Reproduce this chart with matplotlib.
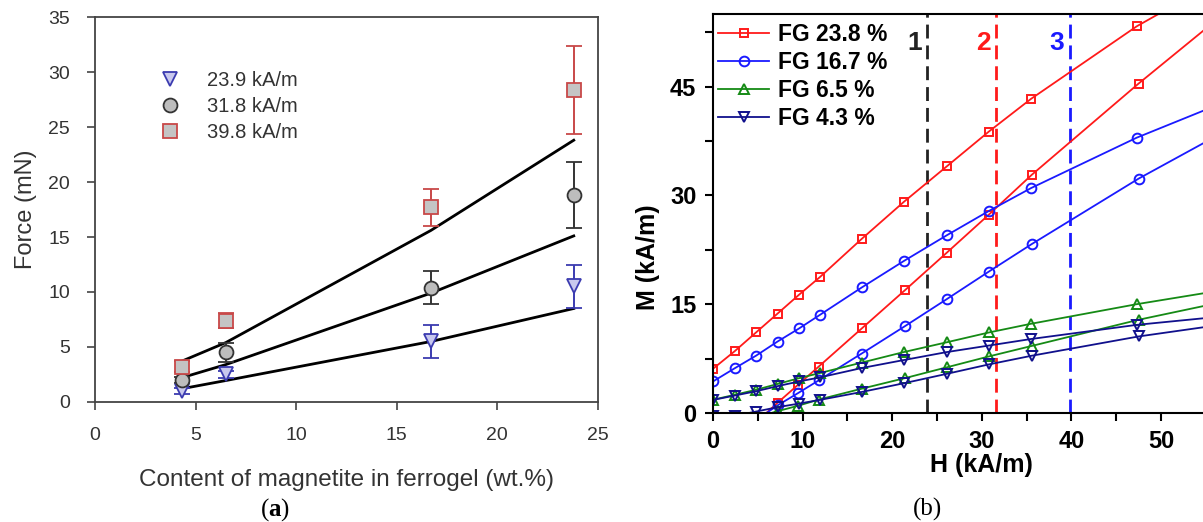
import numpy as np
import matplotlib
matplotlib.use('Agg')
import matplotlib.pyplot as plt
from matplotlib.lines import Line2D

plt.rcParams['font.family'] = ['Liberation Sans', 'DejaVu Sans']
plt.rcParams['mathtext.fontset'] = 'custom'
plt.rcParams['mathtext.rm'] = 'Liberation Serif'
plt.rcParams['mathtext.bf'] = 'Liberation Serif:bold'

# ---- panel (a): force vs magnetite content
content = [4.3, 6.5, 16.7, 23.8]
force_239 = [1.0, 2.5, 5.5, 10.5]
err_239 = [0.25, 0.3, 1.5, 2.0]
force_318 = [2.0, 4.5, 10.4, 18.8]
err_318 = [0.3, 0.9, 1.5, 3.0]
force_398 = [3.2, 7.4, 17.7, 28.4]
err_398 = [0.5, 0.7, 1.7, 4.0]
fit_239 = [1.2, 1.95, 5.5, 8.5]
fit_318 = [2.2, 3.4, 9.9, 15.1]
fit_398 = [3.7, 5.4, 15.6, 23.8]

# ---- panel (b): magnetization curves
h_up = [0, 2.4, 4.8, 7.2, 9.6, 11.9, 16.6, 21.3, 26.1, 30.8, 35.5, 47.3, 59.2]
m238_up = [6.1, 8.5, 11.1, 13.7, 16.3, 18.7, 24.0, 29.1, 34.0, 38.8, 43.3, 53.3, 61.6]
m167_up = [4.35, 6.15, 7.9, 9.85, 11.65, 13.5, 17.3, 20.95, 24.5, 27.85, 31.0, 37.95, 43.9]
m65_up = [1.83, 2.5, 3.2, 4.0, 4.8, 5.5, 6.95, 8.4, 9.75, 11.1, 12.3, 15.0, 17.4]
m43_up = [1.8, 2.4, 3.0, 3.7, 4.35, 4.9, 6.2, 7.3, 8.4, 9.3, 10.2, 12.15, 13.6]

h_lo = [4.8, 7.2, 9.5, 11.8, 16.6, 21.4, 26.1, 30.8, 35.6, 47.5, 59.2]
m238_lo = [-1.3, 1.4, 3.9, 6.4, 11.65, 16.9, 22.1, 27.35, 32.85, 45.4, 57.2]
m167_lo = [-1.0, 1.05, 2.75, 4.5, 8.2, 11.95, 15.7, 19.5, 23.3, 32.3, 40.2]
m65_lo = [-0.6, 0.25, 1.0, 1.85, 3.35, 4.8, 6.3, 7.8, 9.25, 12.85, 15.9]
h43_lo = [0, 2.4, 4.8, 7.2, 9.6, 11.9, 16.6, 21.3, 26.1, 30.8, 35.6, 47.5, 59.2]
m43_lo = [-0.4, -0.4, 0.2, 0.8, 1.3, 1.8, 2.9, 4.1, 5.4, 6.7, 7.9, 10.55, 12.6]

fields = [23.9, 31.6, 39.8]
field_names = ['1', '2', '3']
field_colors = ['#222222', '#ff1a1a', '#1a1aff']

fig = plt.figure(figsize=(12.03, 5.22), dpi=100)

# ================= (a)
ax1 = fig.add_axes([0.079, 0.2299, 0.418, 0.7375])
gray = '#333333'
styles = [
    (force_239, err_239, fit_239, 'v', '#c8c8ee', '#3b3bb0', '23.9 kA/m'),
    (force_318, err_318, fit_318, 'o', '#bdbdbd', '#333333', '31.8 kA/m'),
    (force_398, err_398, fit_398, 's', '#c4c4c4', '#c84848', '39.8 kA/m'),
]
handles = []
for vals, errs, fit, mk, fc, ec, lab in styles:
    ax1.plot(content, fit, color='black', lw=2.0, zorder=2)
    ax1.errorbar(content, vals, yerr=errs, fmt=mk, ms=10, mfc=fc, mec=ec,
                 mew=1.3, ecolor=ec, elinewidth=1.4, capsize=6, capthick=1.4, zorder=3)
    handles.append(Line2D([], [], ls='none', marker=mk, ms=10, mfc=fc, mec=ec, mew=1.3, label=lab))

ax1.set_xlim(0, 25)
ax1.set_ylim(0, 35)
ax1.set_xticks(np.arange(0, 26, 5))
ax1.set_yticks(np.arange(0, 36, 5))
for s in ax1.spines.values():
    s.set_color('#444444')
    s.set_linewidth(1.3)
ax1.tick_params(direction='out', length=6, width=1.2, colors='#444444',
                labelsize=14, labelcolor=gray, pad=12)
ax1.set_xlabel('Content of magnetite in ferrogel (wt.%)', fontsize=17.5, color=gray, labelpad=18)
ax1.set_ylabel('Force (mN)', fontsize=17, color=gray, labelpad=8)
ax1.legend(handles=handles, loc='upper left', bbox_to_anchor=(0.11, 0.885), frameon=False,
           fontsize=14.5, handlelength=1.0, handletextpad=1.3, labelspacing=0.35,
           labelcolor=gray, borderpad=0)

# ================= (b)
ax2 = fig.add_axes([0.5927, 0.2088, 0.4073, 0.7644])
series = [
    (h_up, m238_up, h_lo, m238_lo, 's', 6, '#ff1a1a', 'FG 23.8 %'),
    (h_up, m167_up, h_lo, m167_lo, 'o', 7, '#1a1aff', 'FG 16.7 %'),
    (h_up, m65_up, h_lo, m65_lo, '^', 7.5, '#158a15', 'FG 6.5 %'),
    (h_up, m43_up, h43_lo, m43_lo, 'v', 7.5, '#10108c', 'FG 4.3 %'),
]
for hu, mu, hl, ml, mk, ms, c, lab in series:
    kw = dict(color=c, lw=1.3, marker=mk, ms=ms, mfc='none', mec=c, mew=1.4)
    ax2.plot(hu, mu, label=lab, **kw)
    ax2.plot(hl, ml, **kw)

for f, name, c in zip(fields, field_names, field_colors):
    ax2.axvline(f, color=c, lw=2, ls=(0, (5, 2.5)), zorder=1)
    ax2.text(f - 0.6, 51, name, color=c, fontsize=19, fontweight='bold',
             ha='right', va='center')

ax2.set_xlim(0, 54.7)
ax2.set_ylim(0, 55)
ax2.set_xticks(np.arange(0, 51, 10))
ax2.set_xticks(np.arange(5, 55, 10), minor=True)
ax2.set_yticks([0, 15, 30, 45])
ax2.set_yticks([7.5, 22.5, 37.5, 52.5], minor=True)
ax2.spines['right'].set_visible(False)
for s in ax2.spines.values():
    s.set_linewidth(1.5)
ax2.tick_params(which='both', direction='out', length=6, width=1.5, labelsize=17, pad=6)
for lbl in ax2.get_xticklabels() + ax2.get_yticklabels():
    lbl.set_fontweight('bold')
ax2.set_xlabel('H (kA/m)', fontsize=18, fontweight='bold')
ax2.set_ylabel('M (kA/m)', fontsize=18, fontweight='bold')
ax2.xaxis.set_label_coords(0.547, -0.1)
ax2.yaxis.set_label_coords(-0.108, 0.39)
ax2.legend(loc='upper left', bbox_to_anchor=(0.01, 0.978), frameon=False,
           handlelength=2.25, handletextpad=0.35, labelspacing=0.22, borderpad=0,
           borderaxespad=0, prop={'size': 16.5, 'weight': 'bold'})

fig.text(0.229, 0.012, r'($\mathbf{a}$)', fontsize=18, family='Liberation Serif', ha='center')
fig.text(0.771, 0.012, '(b)', fontsize=18, family='Liberation Serif', ha='center')

fig.savefig('out.png', dpi=100)
